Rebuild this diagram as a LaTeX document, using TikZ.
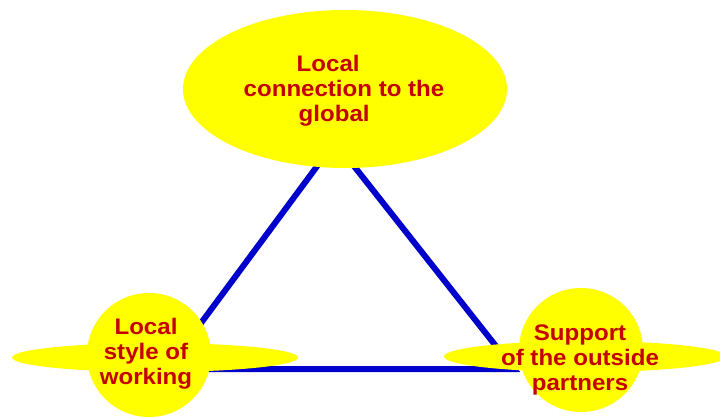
\documentclass[tikz,border=0pt]{standalone}
\usepackage{fontspec}
\setmainfont{Liberation Sans}[FakeStretch=1.07]
\usetikzlibrary{shapes.geometric}
\definecolor{sunyellow}{RGB}{255,255,0}
\definecolor{labelred}{RGB}{196,0,0}
\definecolor{edgeblue}{RGB}{0,0,204}
\begin{document}
\begin{tikzpicture}[x=1pt,y=-1pt,
  blob/.style={ellipse,fill=sunyellow,draw=none,inner sep=0pt},
  ball/.style={circle,fill=sunyellow,draw=none,inner sep=0pt,minimum size=124pt},
  caption/.style={text=labelred,font=\fontsize{22.5}{25}\selectfont\bfseries,align=center,inner sep=0pt},
  edge/.style={draw=edgeblue,line width=6pt}]
  \useasboundingbox (0,0) rectangle (720,418);
  % triangle corners (hidden under the shapes)
  \coordinate (apex) at (335,142);
  \coordinate (lcorner) at (167,369);
  \coordinate (rcorner) at (514,369);
  \draw[edge] (apex) -- (lcorner) -- (rcorner) -- cycle;
  % top ellipse
  \node[blob,minimum width=324pt,minimum height=158pt] (top) at (345,89) {};
  \node[caption,align=left] (toptext) at (344,91)
    {\hspace*{53pt}Local\\connection to the\\\hspace*{55pt}global};
  % left disc with its ring
  \node[blob,minimum width=286pt,minimum height=29pt] (lring) at (155,357.5) {};
  \node[ball] (left) at (149,355) {};
  \node[caption] (lefttext) at (146,354) {Local\\style of\\working};
  % right disc with its ring
  \node[blob,minimum width=282pt,minimum height=31pt] (rring) at (585,356.5) {};
  \node[ball] (right) at (581,350) {};
  \node[caption] (righttext) at (580,360) {Support\\of the outside\\partners};
\end{tikzpicture}
\end{document}
